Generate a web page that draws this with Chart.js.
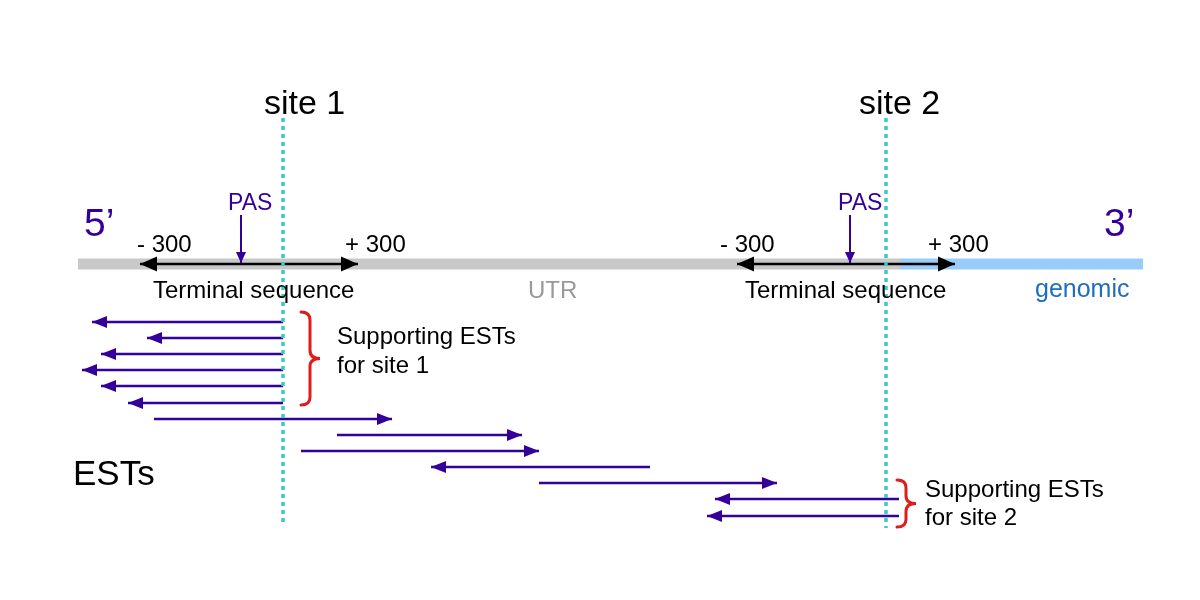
<!DOCTYPE html>
<html><head><meta charset="utf-8">
<script src="https://cdn.jsdelivr.net/npm/chart.js@4/dist/chart.umd.min.js"></script>
<style>html,body{margin:0;padding:0;background:#fff}#wrap{width:1200px;height:600px}</style>
</head><body><div id="wrap"><canvas id="c" width="1200" height="600"></canvas></div>
<script>
// ---- diagram data (x: 0..1200 left→right, y: 0..600 top→bottom) ----
const estFrom = [283, 283, 283, 283, 283, 283, 154, 337, 301, 650, 539, 899, 899];
const estTo   = [ 92, 147, 101,  82, 101, 128, 392, 522, 539, 431, 777, 715, 707];
const estRow  = [322, 338, 354, 370, 386, 403, 419, 435, 451, 467, 483, 499, 516];

const siteNames  = ['site 1', 'site 2'];
const siteX      = [283, 886];
const siteTop    = [118, 118];
const siteBottom = [522, 528];

const transcriptY  = 264;
const utrRange     = [78, 900];
const genomicRange = [900, 1143];

const terminalMinus = [140, 737];   // -300 end
const terminalPlus  = [358, 955];   // +300 end
const pasX   = [241, 850];
const pasTop = [215, 215];

const braceX      = [301, 897];
const braceTop    = [312, 480];
const braceBottom = [405, 527];

const labelTexts = ['site 1', 'site 2', 'PAS', 'PAS', '5’', '3’',
  '- 300', '+ 300', '- 300', '+ 300', 'Terminal sequence', 'Terminal sequence',
  'UTR', 'genomic', 'Supporting ESTs', 'for site 1', 'Supporting ESTs', 'for site 2', 'ESTs'];

// ---- styling / layout (not data) ----
const PURPLE = '#330099';
const FONT = '"Liberation Sans", Arial, sans-serif';
const labelLayout = [
  {x: 264, y: 114, size: 34, color: '#000'},
  {x: 859, y: 114, size: 34, color: '#000'},
  {x: 228, y: 210, size: 23, color: PURPLE},
  {x: 838, y: 210, size: 23, color: PURPLE},
  {x: 84,  y: 236, size: 39, color: PURPLE},
  {x: 1104, y: 236, size: 39, color: PURPLE},
  {x: 137, y: 252, size: 24, color: '#000'},
  {x: 345, y: 252, size: 24, color: '#000'},
  {x: 720, y: 252, size: 24, color: '#000'},
  {x: 928, y: 252, size: 24, color: '#000'},
  {x: 153, y: 298, size: 24, color: '#000'},
  {x: 745, y: 298, size: 24, color: '#000'},
  {x: 528, y: 298, size: 24, color: '#999999'},
  {x: 1035, y: 297, size: 25, color: '#1f6dbf'},
  {x: 337, y: 344, size: 24, color: '#000'},
  {x: 337, y: 373, size: 24, color: '#000'},
  {x: 925, y: 497, size: 24, color: '#000'},
  {x: 925, y: 525, size: 24, color: '#000'},
  {x: 73,  y: 485, size: 35, color: '#000'}
];

function seg(x0, y0, x1, y1, style) {
  return Object.assign({
    data: [{x: x0, y: y0}, {x: x1, y: y1}],
    showLine: true, pointRadius: 0, pointHoverRadius: 0, fill: false,
    borderCapStyle: 'butt', tension: 0
  }, style);
}

const datasets = [];
// transcript bar (drawn at the bottom)
datasets.push(seg(utrRange[0], transcriptY, utrRange[1], transcriptY, {borderColor: '#c8c8c8', borderWidth: 11, order: 10}));
datasets.push(seg(genomicRange[0], transcriptY, genomicRange[1], transcriptY, {borderColor: '#99ccf8', borderWidth: 11, order: 10}));
// terminal sequence double arrows
for (let i = 0; i < terminalMinus.length; i++) {
  datasets.push(seg(terminalMinus[i], transcriptY, terminalPlus[i], transcriptY,
    {borderColor: '#000', borderWidth: 2.5, order: 6, arrow: {both: true, len: 17, half: 7.5, color: '#000'}}));
}
// ESTs
for (let i = 0; i < estRow.length; i++) {
  datasets.push(seg(estFrom[i], estRow[i], estTo[i], estRow[i],
    {borderColor: PURPLE, borderWidth: 2.5, order: 5, arrow: {len: 15, half: 6, color: PURPLE}}));
}
// PAS arrows
for (let i = 0; i < pasX.length; i++) {
  datasets.push(seg(pasX[i], pasTop[i], pasX[i], transcriptY - 1,
    {borderColor: PURPLE, borderWidth: 2, order: 4, arrow: {len: 11, half: 5, color: PURPLE}}));
}
// site lines (on top)
for (let i = 0; i < siteX.length; i++) {
  datasets.push(seg(siteX[i], siteTop[i], siteX[i], siteBottom[i], {borderColor: '#3cc8c8', borderWidth: 3.5, borderDash: [4, 4], order: 1}));
}

function head(ctx, tx, ty, fx, fy, len, half, color) {
  const a = Math.atan2(ty - fy, tx - fx);
  ctx.save();
  ctx.translate(tx, ty);
  ctx.rotate(a);
  ctx.beginPath();
  ctx.moveTo(0, 0);
  ctx.lineTo(-len, -half);
  ctx.lineTo(-len, half);
  ctx.closePath();
  ctx.fillStyle = color;
  ctx.fill();
  ctx.restore();
}

const decor = {
  id: 'decor',
  afterDatasetsDraw(chart) {
    const ctx = chart.ctx;
    const xs = chart.scales.x, ys = chart.scales.y;
    // arrow heads
    chart.data.datasets.forEach((ds, i) => {
      if (!ds.arrow) return;
      const pts = chart.getDatasetMeta(i).data;
      const p0 = pts[0], p1 = pts[pts.length - 1];
      head(ctx, p1.x, p1.y, p0.x, p0.y, ds.arrow.len, ds.arrow.half, ds.arrow.color);
      if (ds.arrow.both) head(ctx, p0.x, p0.y, p1.x, p1.y, ds.arrow.len, ds.arrow.half, ds.arrow.color);
    });
    // braces
    ctx.save();
    ctx.strokeStyle = '#e01b1b';
    ctx.lineWidth = 3;
    ctx.lineCap = 'round';
    for (let i = 0; i < braceX.length; i++) {
      const x0 = xs.getPixelForValue(braceX[i]);
      const t = ys.getPixelForValue(braceTop[i]);
      const b = ys.getPixelForValue(braceBottom[i]);
      const m = (t + b) / 2;
      const w = 9, tip = 19, r = Math.min(8, (b - t) / 6);
      ctx.beginPath();
      ctx.moveTo(x0, t);
      ctx.quadraticCurveTo(x0 + w, t, x0 + w, t + r);
      ctx.lineTo(x0 + w, m - r);
      ctx.quadraticCurveTo(x0 + w, m, x0 + tip, m);
      ctx.quadraticCurveTo(x0 + w, m, x0 + w, m + r);
      ctx.lineTo(x0 + w, b - r);
      ctx.quadraticCurveTo(x0 + w, b, x0, b);
      ctx.stroke();
    }
    ctx.restore();
    // labels
    ctx.save();
    ctx.textBaseline = 'alphabetic';
    ctx.textAlign = 'left';
    labelTexts.forEach((txt, i) => {
      const L = labelLayout[i];
      ctx.font = L.size + 'px ' + FONT;
      ctx.fillStyle = L.color;
      ctx.fillText(txt, xs.getPixelForValue(L.x), ys.getPixelForValue(L.y));
    });
    ctx.restore();
  }
};

new Chart(document.getElementById('c'), {
  type: 'scatter',
  data: {datasets},
  options: {
    responsive: false,
    devicePixelRatio: 1,
    animation: false,
    layout: {padding: 0},
    scales: {
      x: {type: 'linear', min: 0, max: 1200, display: false},
      y: {type: 'linear', min: 0, max: 600, reverse: true, display: false}
    },
    plugins: {legend: {display: false}, tooltip: {enabled: false}},
    events: []
  },
  plugins: [decor]
});
</script>
</body></html>
